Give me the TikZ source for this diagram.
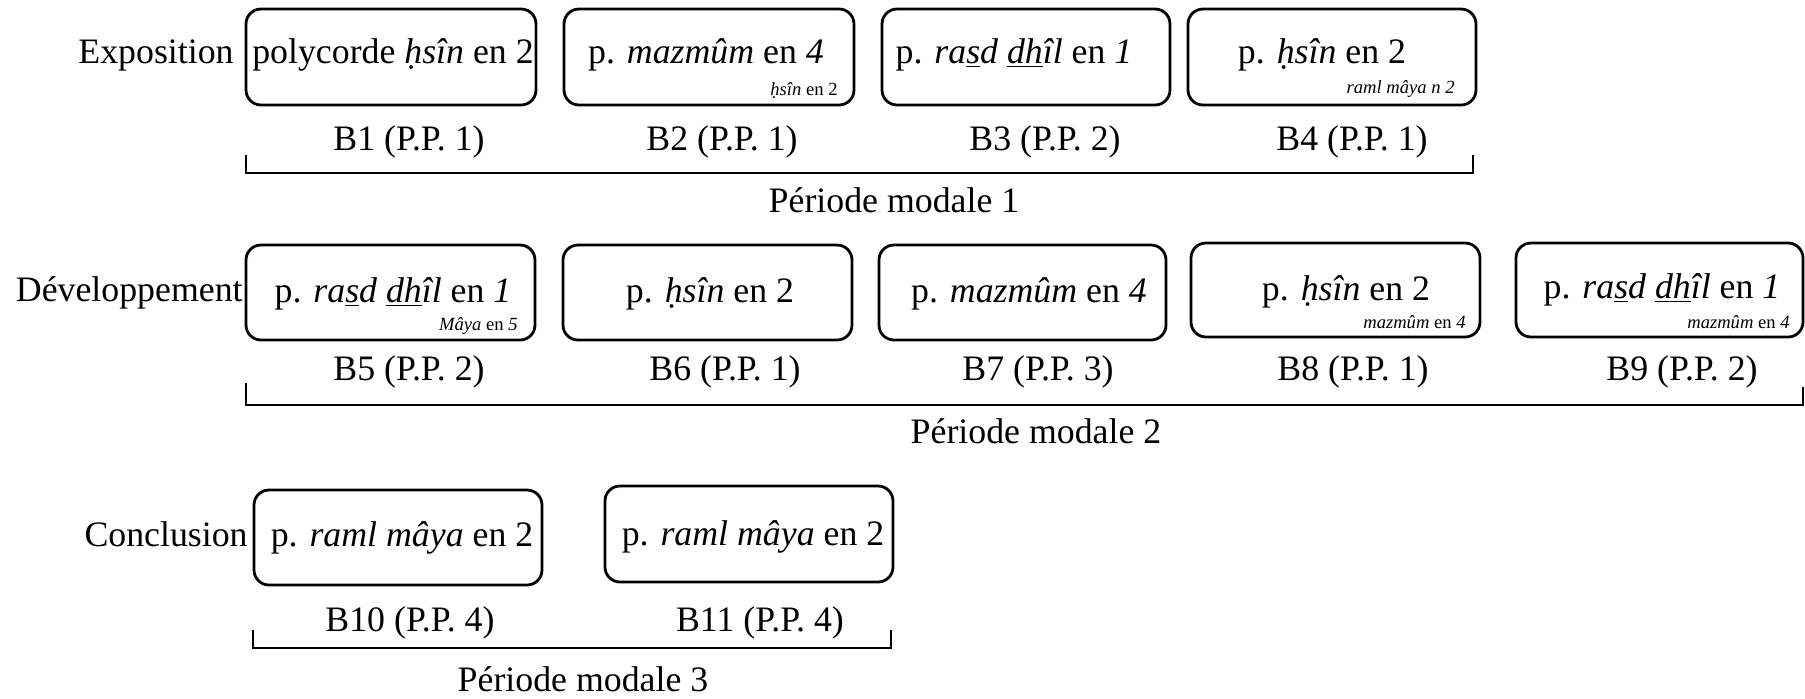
\documentclass[tikz,border=0pt]{standalone}
\usepackage{fontspec}
\setmainfont{Liberation Serif}
\usetikzlibrary{fit}
\newcommand\bigtxt{\fontsize{17.9}{21}\selectfont}
\newcommand\smalltxt{\fontsize{9.3}{11}\selectfont}
\newcommand\rasd{\textit{ra\underline{s}d \underline{dh}îl}}
\begin{document}
\begin{tikzpicture}[x=0.5pt,y=-0.5pt,
  blk/.style={draw, line width=1.4pt, rounded corners=7.5pt, inner sep=0pt},
  maintxt/.style={anchor=base, inner sep=0pt, font=\bigtxt},
  note/.style={anchor=base east, inner sep=0pt, font=\smalltxt},
  lbl/.style={anchor=base, inner sep=0pt, font=\bigtxt},
  rowlbl/.style={anchor=base east, inner sep=0pt, font=\bigtxt},
  brk/.style={line width=1.4pt, line join=miter}]
\useasboundingbox (0,0) rectangle (1805,698);

% ---------- Row 1 : Exposition ----------
\node[rowlbl] (rExp) at (234,63) {Exposition};
\node[blk, fit={(246,9) (536,105)}] (b1) {};
\node[blk, fit={(564,9) (854,105)}] (b2) {};
\node[blk, fit={(882,9) (1170,105)}] (b3) {};
\node[blk, fit={(1188,9) (1476,105)}] (b4) {};
\node[maintxt] (t1) at (393,63) {polycorde \textit{ḥsîn} en 2};
\node[maintxt] (t2) at (706,63) {p. \textit{mazmûm} en \textit{4}};
\node[maintxt] (t3) at (1014,63) {p. \rasd{} en \textit{1}};
\node[maintxt] (t4) at (1322,63) {p. \textit{ḥsîn} en 2};
\node[note] (n2) at (838,95) {\textit{ḥsîn} en 2};
\node[note] (n4) at (1455,93) {\textit{raml mâya n 2}};
\node[lbl] (l1) at (409,150) {B1 (P.P. 1)};
\node[lbl] (l2) at (722,150) {B2 (P.P. 1)};
\node[lbl] (l3) at (1045,150) {B3 (P.P. 2)};
\node[lbl] (l4) at (1352,150) {B4 (P.P. 1)};
\coordinate (k1a) at (246,155);
\coordinate (k1b) at (246,173);
\coordinate (k1c) at (1473,173);
\coordinate (k1d) at (1473,155);
\draw[brk] (k1a) -- (k1b) -- (k1c) -- (k1d);
\node[lbl] (p1) at (894,212) {Période modale 1};

% ---------- Row 2 : Développement ----------
\node[rowlbl] (rDev) at (243,301) {Développement};
\node[blk, fit={(246,245) (535,340)}] (b5) {};
\node[blk, fit={(563,245) (852,340)}] (b6) {};
\node[blk, fit={(879,245) (1166,340)}] (b7) {};
\node[blk, fit={(1191,243) (1480,337)}] (b8) {};
\node[blk, fit={(1516,243) (1803,337)}] (b9) {};
\node[maintxt] (t5) at (393,302) {p. \rasd{} en \textit{1}};
\node[maintxt] (t6) at (710,302) {p. \textit{ḥsîn} en 2};
\node[maintxt] (t7) at (1029,302) {p. \textit{mazmûm} en \textit{4}};
\node[maintxt] (t8) at (1346,300) {p. \textit{ḥsîn} en 2};
\node[maintxt] (t9) at (1662,298) {p. \rasd{} en \textit{1}};
\node[note] (n5) at (518,330) {\textit{Mâya} en \textit{5}};
\node[note] (n8) at (1466,328) {\textit{mazmûm} en \textit{4}};
\node[note] (n9) at (1790,328) {\textit{mazmûm} en \textit{4}};
\node[lbl] (l5) at (409,380) {B5 (P.P. 2)};
\node[lbl] (l6) at (725,380) {B6 (P.P. 1)};
\node[lbl] (l7) at (1038,380) {B7 (P.P. 3)};
\node[lbl] (l8) at (1353,380) {B8 (P.P. 1)};
\node[lbl] (l9) at (1682,380) {B9 (P.P. 2)};
\coordinate (k2a) at (246,383);
\coordinate (k2b) at (246,405);
\coordinate (k2c) at (1803,405);
\coordinate (k2d) at (1803,387);
\draw[brk] (k2a) -- (k2b) -- (k2c) -- (k2d);
\node[lbl] (p2) at (1036,443) {Période modale 2};

% ---------- Row 3 : Conclusion ----------
\node[rowlbl] (rCon) at (248,546) {Conclusion};
\node[blk, fit={(254,490) (542,585)}] (b10) {};
\node[blk, fit={(605,486) (893,582)}] (b11) {};
\node[maintxt] (t10) at (402,546) {p. \textit{raml mâya} en 2};
\node[maintxt] (t11) at (753,545) {p. \textit{raml mâya} en 2};
\node[lbl] (l10) at (410,631) {B10 (P.P. 4)};
\node[lbl] (l11) at (760,631) {B11 (P.P. 4)};
\coordinate (k3a) at (253,630);
\coordinate (k3b) at (253,648);
\coordinate (k3c) at (891,648);
\coordinate (k3d) at (891,630);
\draw[brk] (k3a) -- (k3b) -- (k3c) -- (k3d);
\node[lbl] (p3) at (583,691) {Période modale 3};
\end{tikzpicture}
\end{document}
